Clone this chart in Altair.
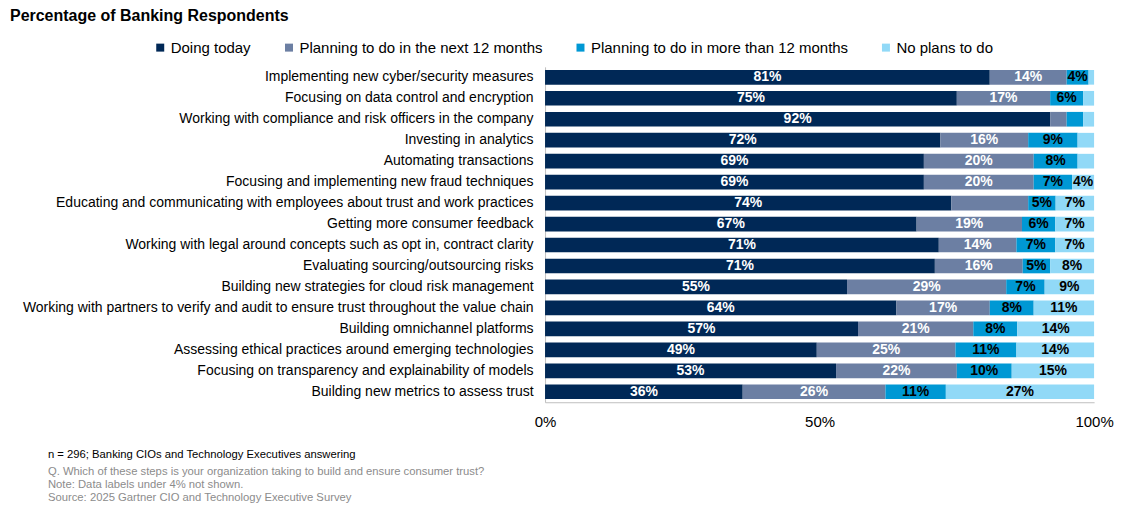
import altair as alt
import pandas as pd

categories = [
    "Implementing new cyber/security measures",
    "Focusing on data control and encryption",
    "Working with compliance and risk officers in the company",
    "Investing in analytics",
    "Automating transactions",
    "Focusing and implementing new fraud techniques",
    "Educating and communicating with employees about trust and work practices",
    "Getting more consumer feedback",
    "Working with legal around concepts such as opt in, contract clarity",
    "Evaluating sourcing/outsourcing risks",
    "Building new strategies for cloud risk management",
    "Working with partners to verify and audit to ensure trust throughout the value chain",
    "Building omnichannel platforms",
    "Assessing ethical practices around emerging technologies",
    "Focusing on transparency and explainability of models",
    "Building new metrics to assess trust",
]
series = [
    "Doing today",
    "Planning to do in the next 12 months",
    "Planning to do in more than 12 months",
    "No plans to do",
]
doing_today = [81, 75, 92, 72, 69, 69, 74, 67, 71, 71, 55, 64, 57, 49, 53, 36]
next_12 = [14, 17, 3, 16, 20, 20, 14, 19, 14, 16, 29, 17, 21, 25, 22, 26]
more_12 = [4, 6, 3, 9, 8, 7, 5, 6, 7, 5, 7, 8, 8, 11, 10, 11]
no_plans = [1, 2, 2, 3, 3, 4, 7, 7, 7, 8, 9, 11, 14, 14, 15, 27]
colors = ["#002856", "#6C7FA3", "#0098D4", "#91D9F7"]
hidden_labels = [(categories[6], series[1])]

title_text = "Percentage of Banking Respondents"
footnote_main = "n = 296; Banking CIOs and Technology Executives answering"
footnote_gray = [
    "Q. Which of these steps is your organization taking to build and ensure consumer trust?",
    "Note: Data labels under 4% not shown.",
    "Source: 2025 Gartner CIO and Technology Executive Survey",
]

FONT = "Liberation Sans"

rows = []
for s_i, (s, vals) in enumerate(zip(series, [doing_today, next_12, more_12, no_plans])):
    for c, v in zip(categories, vals):
        show = v >= 4 and (c, s) not in hidden_labels
        rows.append({"category": c, "series": s, "order": s_i, "value": v, "show": show})
df = pd.DataFrame(rows)

base = alt.Chart(df).transform_stack(
    stack="value",
    groupby=["category"],
    as_=["x0", "x1"],
    sort=[alt.SortField("order", order="ascending")],
    offset="normalize",
)

y_enc = alt.Y(
    "category:N",
    sort=categories,
    title=None,
    scale=alt.Scale(paddingInner=0.3, paddingOuter=0.15),
    axis=alt.Axis(
        labelFont=FONT, labelFontSize=14, labelColor="black", labelLimit=700,
        labelPadding=12, ticks=False, domainColor="#BFBFBF", domainWidth=1,
    ),
)

bars = base.mark_bar().encode(
    x=alt.X(
        "x0:Q",
        title=None,
        scale=alt.Scale(domain=[0, 1], nice=False),
        axis=alt.Axis(
            values=[0, 0.5, 1], format="%", labelFont=FONT, labelFontSize=15,
            labelColor="black", labelPadding=12, ticks=False, grid=False,
            domainColor="#BFBFBF", labelFlush=False,
        ),
    ),
    x2="x1:Q",
    y=y_enc,
    color=alt.Color(
        "series:N",
        sort=series,
        scale=alt.Scale(domain=series, range=colors),
        legend=alt.Legend(
            title=None, orient="none", direction="horizontal", columns=4,
            legendX=-393, legendY=-27, symbolType="square", symbolSize=64,
            symbolStrokeWidth=0, labelFont=FONT, labelFontSize=15, labelColor="black",
            columnPadding=30, labelOffset=3, padding=0, labelLimit=400,
        ),
    ),
    order=alt.Order("order:Q"),
)

labels = base.transform_filter("datum.show").transform_calculate(
    mid="(datum.x0 + datum.x1) / 2",
    tc="datum.order < 2 ? 'white' : 'black'",
    lbl="datum.value + '%'",
).mark_text(font=FONT, fontSize=14, fontWeight="bold", baseline="middle", align="center").encode(
    x=alt.X("mid:Q"),
    y=alt.Y("category:N", sort=categories),
    text="lbl:N",
    color=alt.Color("tc:N", scale=None),
)

title_df = pd.DataFrame({"t": [title_text]})
title_mark = alt.Chart(title_df).mark_text(
    font=FONT, fontSize=16, fontWeight="bold", align="left", baseline="middle", color="black"
).encode(text="t:N", x=alt.value(-536), y=alt.value(-51))

fn1 = alt.Chart(pd.DataFrame({"t": [footnote_main]})).mark_text(
    font=FONT, fontSize=11.3, align="left", baseline="middle", color="black"
).encode(text="t:N", x=alt.value(-498), y=alt.value(388.5))

fn_layers = []
for i, t in enumerate(footnote_gray):
    fn_layers.append(
        alt.Chart(pd.DataFrame({"t": [t]})).mark_text(
            font=FONT, fontSize=11.3, align="left", baseline="middle", color="#8C8C8C"
        ).encode(text="t:N", x=alt.value(-498), y=alt.value(405.5 + 13 * i))
    )

chart = alt.layer(bars, labels, title_mark, fn1, *fn_layers).properties(
    width=550,
    height=336,
    autosize=alt.AutoSizeParams(type="none"),
    padding={"left": 538, "top": 58.5, "right": 45, "bottom": 105},
).configure_view(stroke=None).resolve_scale(color="independent")

chart.save("out.html", embed_options={"renderer": "svg", "actions": False})
